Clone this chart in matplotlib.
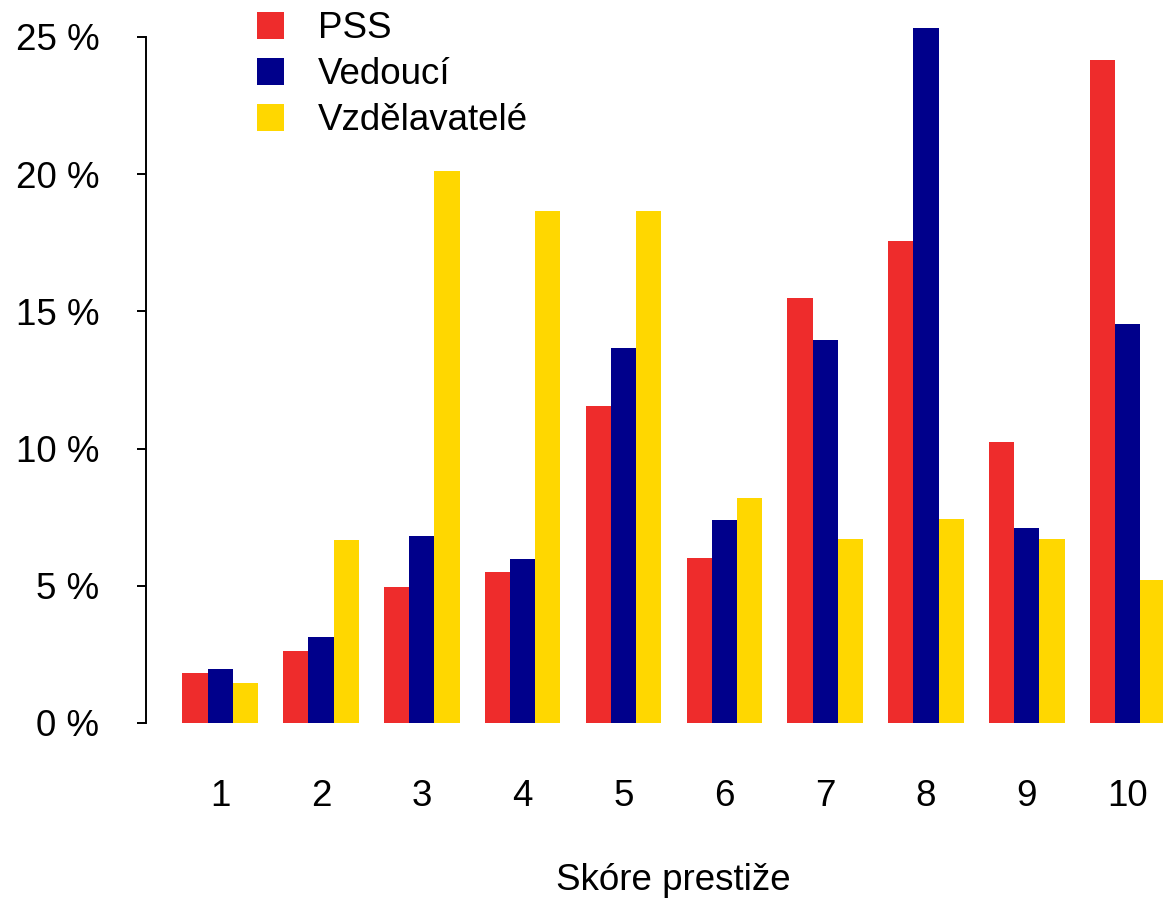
import numpy as np
import matplotlib
matplotlib.use("Agg")
import matplotlib.pyplot as plt
from matplotlib.patches import Patch

plt.rcParams['font.family'] = ['Liberation Sans', 'DejaVu Sans']

scores = ['1', '2', '3', '4', '5', '6', '7', '8', '9', '10']
series = ['PSS', 'Vedoucí', 'Vzdělavatelé']
pss = [1.82, 2.61, 4.96, 5.50, 11.54, 6.00, 15.49, 17.55, 10.23, 24.15]
vedouci = [1.96, 3.12, 6.83, 5.96, 13.66, 7.38, 13.95, 25.34, 7.12, 14.53]
vzdelavatele = [1.47, 6.68, 20.12, 18.65, 18.65, 8.19, 6.69, 7.44, 6.69, 5.21]
colors = ['#EE2C2C', '#00008B', '#FFD700']
yticks = [0, 5, 10, 15, 20, 25]

fs = 26.5

fig = plt.figure(figsize=(11.63, 9), dpi=100)
ax = fig.add_axes([146 / 1163, 177 / 900, 1 - 146 / 1163, 723 / 900])

# R-style grouped barplot: each group = 3 bars + 1 unit gap
groups = np.arange(len(scores))
for j, (vals, col) in enumerate(zip([pss, vedouci, vzdelavatele], colors)):
    left = 1 + 4 * groups + j
    ax.bar(left, vals, width=1, align='edge', color=col, edgecolor='none')

ax.set_xlim(-0.44, 39.9)
ax.set_ylim(0, 723 / 27.44)

ax.spines['top'].set_visible(False)
ax.spines['right'].set_visible(False)
ax.spines['bottom'].set_visible(False)
ax.spines['left'].set_bounds(0, 25)
ax.spines['left'].set_linewidth(1.4)

ax.set_yticks(yticks)
ax.set_yticklabels([f'{v} %' for v in yticks], fontsize=fs)
ax.tick_params(axis='y', length=6.5, width=1.4, pad=27)

ax.set_xticks(2.5 + 4 * groups)
ax.set_xticklabels(scores, fontsize=fs)
ax.tick_params(axis='x', length=0, pad=40)

fig.text(673 / 1163, 1 - 881 / 900, 'Skóre prestiže', fontsize=fs,
         ha='center', va='center')

handles = [Patch(facecolor=c, edgecolor='none') for c in colors]
ax.legend(handles, series, loc='upper left',
          bbox_to_anchor=(250 / 1163, 1 - 4 / 900),
          bbox_transform=fig.transFigure, frameon=False, fontsize=fs,
          handlelength=0.73, handleheight=0.73, handletextpad=0.92,
          labelspacing=0.3, borderaxespad=0.0, borderpad=0.2)

fig.savefig('out.png', dpi=100, facecolor='white')
